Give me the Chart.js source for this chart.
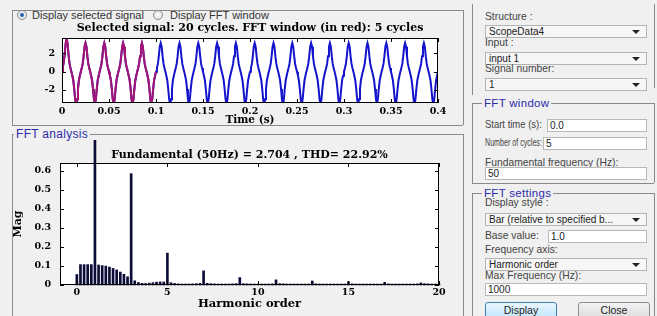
<!DOCTYPE html>
<html>
<head>
<meta charset="utf-8">
<script src="https://cdn.jsdelivr.net/npm/chart.js@4.4.1/dist/chart.umd.min.js"></script>
<style>
  body { margin: 0; width: 657px; height: 316px; background: #f0f0f0; position: relative; overflow: hidden;
         font-family: "Liberation Sans", Arial, sans-serif; font-size: 10px; color: #333; }
  .txt { position: absolute; line-height: 12px; white-space: nowrap; font-size: 11px; color: #333; }
  .lbl { position: absolute; line-height: 12px; white-space: nowrap; font-size: 10.3px; color: #444;
         transform-origin: left center; }
  .vline { position: absolute; width: 0; border-left: 1px solid #8a8a8a; }
  .hline { position: absolute; height: 0; border-top: 1px solid #8a8a8a; }
  .group { position: absolute; line-height: 12px; font-size: 11.5px; color: #2c2ca8; background: #f0f0f0;
           padding: 0 2px; letter-spacing: 0.3px; }
  .radio { position: absolute; width: 8px; height: 8px; border-radius: 50%; border: 1px solid #8c8c8c;
           background: radial-gradient(#ffffff, #d8d8d8); }
  .radio.on::after { content: ""; position: absolute; left: 2px; top: 2px; width: 4px; height: 4px;
           border-radius: 50%; background: #1f5fb0; }
  .popup { position: absolute; left: 485px; width: 157px; height: 11px; border: 1px solid #b4b4b4;
           background: #f6f6f6; line-height: 11px; padding-left: 3px; font-size: 10px; color: #222; }
  .popup::after { content: ""; position: absolute; right: 6px; top: 4px; border-left: 4px solid transparent;
           border-right: 4px solid transparent; border-top: 4px solid #222; }
  .edit { position: absolute; height: 11px; border: 1px solid #b8b8b8; background: #fff; line-height: 11px;
          padding-left: 2px; font-size: 10px; color: #222; }
  .btn { position: absolute; height: 16px; line-height: 15px; text-align: center; font-size: 10.5px; color: #222;
         border-radius: 3px; }
  canvas { position: absolute; }
</style>
</head>
<body>
<!-- top left panel -->
<div class="hline" style="left:12px; top:10px; width:451px;"></div>
<div class="vline" style="left:12px; top:10px; height:115px;"></div>
<div class="vline" style="left:463px; top:10px; height:115px;"></div>
<div class="hline" style="left:12px; top:125px; width:451px;"></div>
<div class="radio on" style="left:17px; top:10px;"></div>
<div class="txt" style="left:32px; top:9px;">Display selected signal</div>
<div class="radio" style="left:153px; top:10px;"></div>
<div class="txt" style="left:170px; top:9px;">Display FFT window</div>
<canvas id="signalChart" width="451" height="109" style="left:12px; top:18px;"></canvas>

<!-- FFT analysis group -->
<div class="hline" style="left:12px; top:134px; width:451px;"></div>
<div class="vline" style="left:12px; top:134px; height:190px;"></div>
<div class="vline" style="left:463px; top:134px; height:190px;"></div>
<div class="group" style="left:14px; top:128px; font-size:12px;">FFT analysis</div>
<canvas id="fftChart" width="451" height="172" style="left:12px; top:140px;"></canvas>

<!-- right panel -->
<div class="vline" style="left:472px; top:4px; height:91px;"></div>
<div class="vline" style="left:654px; top:4px; height:84px;"></div>
<div class="lbl" style="left:485px; top:11px;">Structure :</div>
<div class="popup" style="top:25px;">ScopeData4</div>
<div class="lbl" style="left:485px; top:37px;">Input :</div>
<div class="popup" style="top:52px;">input 1</div>
<div class="lbl" style="left:485px; top:63px;">Signal number:</div>
<div class="popup" style="top:78px;">1</div>

<div class="hline" style="left:472px; top:103px; width:182px;"></div>
<div class="vline" style="left:472px; top:103px; height:80px;"></div>
<div class="vline" style="left:654px; top:103px; height:80px;"></div>
<div class="hline" style="left:472px; top:183px; width:182px;"></div>
<div class="group" style="left:482px; top:97px;">FFT window</div>
<div class="lbl" style="left:485px; top:119px; transform:scaleX(0.92);">Start time (s):</div>
<div class="edit" style="left:547px; top:119px; width:96px;">0.0</div>
<div class="lbl" style="left:485px; top:137px; transform:scaleX(0.69);">Number of cycles:</div>
<div class="edit" style="left:543px; top:137px; width:100px;">5</div>
<div class="lbl" style="left:485px; top:157px;">Fundamental frequency (Hz):</div>
<div class="edit" style="left:485px; top:167px; width:158px;">50</div>

<div class="hline" style="left:472px; top:193px; width:182px;"></div>
<div class="vline" style="left:472px; top:193px; height:130px;"></div>
<div class="vline" style="left:654px; top:193px; height:130px;"></div>
<div class="group" style="left:482px; top:187px;">FFT settings</div>
<div class="lbl" style="left:485px; top:197px;">Display style :</div>
<div class="popup" style="top:213px;">Bar (relative to specified b...</div>
<div class="lbl" style="left:485px; top:230px;">Base value:</div>
<div class="edit" style="left:548px; top:230px; width:95px;">1.0</div>
<div class="lbl" style="left:485px; top:244px;">Frequency axis:</div>
<div class="popup" style="top:258px;">Harmonic order</div>
<div class="lbl" style="left:485px; top:270px;">Max Frequency (Hz):</div>
<div class="edit" style="left:485px; top:283px; width:158px;">1000</div>
<div class="btn" style="left:485px; top:302px; width:70px; border:1px solid #3c7fb1; background:linear-gradient(#eaf6fd,#bee6fd);">Display</div>
<div class="btn" style="left:578px; top:302px; width:70px; border:1px solid #8e8e8e; background:linear-gradient(#f2f2f2,#dcdcdc);">Close</div>

<script>
// --- selected signal (one sample per ms, 20 samples per 50 Hz cycle) ---
const sampleStep = 0.001;
const cycleCount = 20;
const windowCycles = 5;
const firstCycle = [0, 0.55, 1.1, 2.1, 3.2, 3.65, 3.0, 1.8, 0.9, 0.4,
                    0, -0.45, -0.95, -1.9, -3.05, -3.6, -3.05, -1.9, -0.95, -0.45];
const steadyCycle = [0, 0.4, 0.85, 1.7, 2.75, 3.15, 2.75, 1.7, 0.85, 0.4,
                     0, -0.45, -0.95, -1.9, -3.05, -3.6, -3.05, -1.9, -0.95, -0.45];
const lastSample = 0;
const timeTicks = [0, 0.05, 0.1, 0.15, 0.2, 0.25, 0.3, 0.35, 0.4];

// --- FFT: one bar every 0.2 harmonic (5-cycle window), rows = one harmonic each ---
const harmonicStep = 0.2;
const fftMag = [
  0.055, 0.107, 0.107, 0.107, 0.107,
  2.704, 0.105, 0.102, 0.099, 0.094,
  0.087, 0.079, 0.068, 0.056, 0.043,
  0.584, 0.022, 0.013, 0.009, 0.008,
  0.010, 0.012, 0.015, 0.016, 0.016,
  0.167, 0.012, 0.008, 0.006, 0.005,
  0.005, 0.005, 0.006, 0.007, 0.008,
  0.074, 0.009, 0.007, 0.006, 0.005,
  0.005, 0.005, 0.005, 0.006, 0.007,
  0.039, 0.007, 0.006, 0.005, 0.005,
  0.005, 0.005, 0.005, 0.005, 0.006,
  0.027, 0.007, 0.006, 0.005, 0.005,
  0.005, 0.005, 0.005, 0.005, 0.005,
  0.021, 0.006, 0.005, 0.005, 0.005,
  0.005, 0.005, 0.005, 0.005, 0.005,
  0.017, 0.006, 0.005, 0.005, 0.005,
  0.005, 0.005, 0.005, 0.005, 0.005,
  0.014, 0.006, 0.005, 0.005, 0.005,
  0.005, 0.005, 0.005, 0.005, 0.006,
  0.011, 0.007, 0.006, 0.005, 0.005,
  0.005
];

const serif = "'DejaVu Serif', 'Liberation Serif', serif";
const fmt = (v) => String(+Number(v).toFixed(2));

// white plot background
const plotBg = {
  id: "plotBg",
  beforeDraw(chart) {
    const { ctx, chartArea: a } = chart;
    ctx.save();
    ctx.fillStyle = "#fff";
    ctx.fillRect(a.left, a.top, a.right - a.left, a.bottom - a.top);
    ctx.restore();
  },
};

// MATLAB style box with inward tick marks
const boxTicks = {
  id: "boxTicks",
  afterDatasetsDraw(chart) {
    const { ctx, chartArea: a, scales } = chart;
    const len = 4;
    ctx.save();
    ctx.strokeStyle = "#000";
    ctx.lineWidth = 1;
    ctx.strokeRect(a.left + 0.5, a.top + 0.5, a.right - a.left - 1, a.bottom - a.top - 1);
    ctx.beginPath();
    for (const t of scales.x.ticks) {
      const x = Math.round(scales.x.getPixelForValue(t.value)) + 0.5;
      ctx.moveTo(x, a.bottom); ctx.lineTo(x, a.bottom - len);
      ctx.moveTo(x, a.top); ctx.lineTo(x, a.top + len);
    }
    for (const t of scales.y.ticks) {
      const y = Math.round(scales.y.getPixelForValue(t.value)) + 0.5;
      ctx.moveTo(a.left, y); ctx.lineTo(a.left + len, y);
      ctx.moveTo(a.right, y); ctx.lineTo(a.right - len, y);
    }
    ctx.stroke();
    ctx.restore();
  },
};

function plotSignal() {
  const values = firstCycle.slice();
  for (let c = 1; c < cycleCount; c++) values.push(...steadyCycle);
  values.push(lastSample);
  const points = values.map((v, i) => ({ x: +(i * sampleStep).toFixed(3), y: v }));
  const windowPoints = points.slice(0, windowCycles * firstCycle.length + 1);

  new Chart(document.getElementById("signalChart"), {
    type: "line",
    data: {
      datasets: [
        { data: windowPoints, borderColor: "rgb(165,20,115)", borderWidth: 2, pointRadius: 0 },
        { data: points, borderColor: "#1414cc", borderWidth: 2, pointRadius: 0 },
      ],
    },
    options: {
      responsive: false,
      animation: false,
      devicePixelRatio: 1,
      layout: { padding: { left: 0, right: 25, top: 0, bottom: 0 } },
      plugins: {
        legend: { display: false },
        tooltip: { enabled: false },
        title: {
          display: true,
          fullSize: false,
          text: "Selected signal: 20 cycles. FFT window (in red): 5 cycles",
          color: "#000",
          font: { family: serif, size: 11, weight: "bold" },
          padding: { top: 4, bottom: 2.8 },
        },
      },
      scales: {
        x: {
          type: "linear", min: 0, max: 0.4,
          afterBuildTicks: (s) => { s.ticks = timeTicks.map((v) => ({ value: v })); },
          afterFit: (s) => { s.height = 24; },
          grid: { display: false, drawTicks: false },
          border: { display: false },
          ticks: { padding: 2.5, color: "#000", maxRotation: 0, autoSkip: false,
                   font: { family: serif, size: 9.5, weight: "bold" }, callback: fmt },
          title: { display: true, text: "Time (s)", color: "#000", padding: { top: 0, bottom: 0.4 },
                   font: { family: serif, size: 10.5, weight: "bold" } },
        },
        y: {
          min: -3.45, max: 3.7,
          afterFit: (s) => { s.width = 50; },
          grid: { display: false, drawTicks: false },
          border: { display: false },
          ticks: { stepSize: 2, includeBounds: false, padding: 7, color: "#000",
                   font: { family: serif, size: 9.5, weight: "bold" }, callback: fmt },
        },
      },
    },
    plugins: [plotBg, boxTicks],
  });
}

function plotFft() {
  const points = fftMag.map((m, i) => ({ x: +(i * harmonicStep).toFixed(1), y: m }));

  new Chart(document.getElementById("fftChart"), {
    type: "bar",
    data: {
      datasets: [
        { data: points, backgroundColor: "#0c0c38", barThickness: 2, clip: false },
      ],
    },
    options: {
      responsive: false,
      animation: false,
      devicePixelRatio: 1,
      layout: { padding: { left: 0, right: 24, top: 0, bottom: 0 } },
      plugins: {
        legend: { display: false },
        tooltip: { enabled: false },
        title: {
          display: true,
          fullSize: false,
          text: "Fundamental (50Hz) = 2.704 , THD= 22.92%",
          color: "#000",
          font: { family: serif, size: 11, weight: "bold" },
          padding: { top: 8.4, bottom: 1.4 },
        },
      },
      scales: {
        x: {
          type: "linear", min: -0.93, max: 20, offset: false,
          afterFit: (s) => { s.height = 27; },
          grid: { display: false, drawTicks: false, offset: false },
          border: { display: false },
          ticks: { stepSize: 5, includeBounds: false, padding: 2, color: "#000", maxRotation: 0,
                   font: { family: serif, size: 9.5, weight: "bold" }, callback: fmt },
          title: { display: true, text: "Harmonic order", color: "#000", padding: { top: 0, bottom: 1 },
                   font: { family: serif, size: 11.5, weight: "bold" } },
        },
        y: {
          min: 0, max: 0.64,
          afterFit: (s) => { s.width = 48; },
          grid: { display: false, drawTicks: false },
          border: { display: false },
          ticks: { stepSize: 0.1, includeBounds: false, padding: 9, color: "#000",
                   font: { family: serif, size: 9.5, weight: "bold" }, callback: fmt },
          title: { display: true, text: "Mag", color: "#000", padding: { top: 0, bottom: 0 },
                   font: { family: serif, size: 11, weight: "bold" } },
        },
      },
    },
    plugins: [plotBg, boxTicks],
  });
}

plotSignal();
plotFft();
</script>
</body>
</html>
